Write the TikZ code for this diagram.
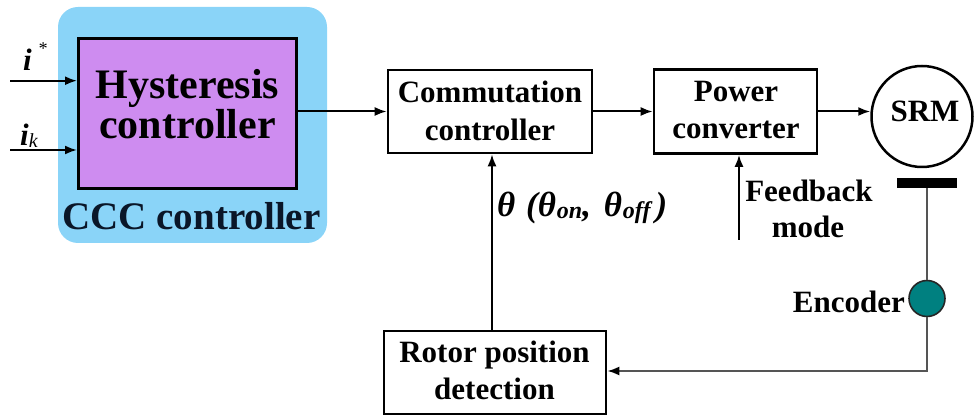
\documentclass[tikz,border=0pt]{standalone}
\usepackage{fontspec}
\setmainfont{Liberation Serif}
\usetikzlibrary{arrows.meta}
\definecolor{ccbg}{RGB}{138,212,248}
\definecolor{hystfill}{RGB}{206,140,240}
\definecolor{encfill}{RGB}{0,128,128}
\definecolor{navytext}{RGB}{10,22,40}
\definecolor{wire}{RGB}{85,85,85}
\begin{document}
\begin{tikzpicture}[x=1pt,y=-1pt,
  blk/.style={draw=black, line width=2.6pt, rectangle, inner sep=0pt},
  lbl/.style={anchor=base, inner sep=0pt, font=\fontsize{31}{37}\selectfont\bfseries},
  arr/.style={line width=2pt, -{Latex[length=12pt,width=9pt]}},
]
\useasboundingbox (0,0) rectangle (975,419);
% CCC controller background
\node[fill=ccbg, rounded corners=20pt, minimum width=269pt, minimum height=236pt, inner sep=0pt] (ccc) at (192.5,125) {};
\node[blk, fill=hystfill, line width=3pt, minimum width=218pt, minimum height=150pt] (hyst) at (187.5,113.5) {};
\node[lbl, font=\fontsize{42}{40}\selectfont\bfseries] (h1) at (187.5,99) {Hysteresis};
\node[lbl, font=\fontsize{42}{40}\selectfont\bfseries] (h2) at (187.5,139) {controller};
\node[lbl, font=\fontsize{39}{40}\selectfont\bfseries, text=navytext] (cccl) at (191.5,230) {CCC controller};
% inputs
\coordinate (in1) at (10,80.7);
\coordinate (in2) at (10,150);
\draw[arr] (in1) -- (in1 -| hyst.west);
\draw[arr] (in2) -- (in2 -| hyst.west);
\node[lbl, anchor=base west, font=\fontsize{31}{30}\selectfont\bfseries\itshape] (istar) at (23,71) {i\kern6pt\raisebox{16pt}{\fontsize{18}{18}\selectfont\mdseries *}};
\node[lbl, anchor=base west, font=\fontsize{31}{30}\selectfont\bfseries\itshape] (ik) at (20,146) {i\raisebox{-2pt}{\fontsize{20}{20}\selectfont\mdseries k}};
% blocks
\node[blk, minimum width=204pt, minimum height=83pt] (comm) at (490,111.5) {};
\node[lbl] (c1) at (490,103) {Commutation};
\node[lbl] (c2) at (490,141) {controller};
\node[blk, minimum width=163pt, minimum height=84pt] (pow) at (735.5,111.5) {};
\node[lbl] (p1) at (736,102) {Power};
\node[lbl] (p2) at (736,139) {converter};
\node[circle, draw=black, line width=2.5pt, minimum size=101pt, inner sep=0pt] (srm) at (922,116.5) {};
\node[lbl] (srml) at (925,121.5) {SRM};
\node[fill=black, minimum width=60pt, minimum height=10pt, inner sep=0pt] (bar) at (927,183) {};
\node[circle, draw=black!85, fill=encfill, line width=1.6pt, minimum size=36pt, inner sep=0pt] (enc) at (927,298.5) {};
\node[lbl, anchor=base east] (encl) at (905,313) {Encoder};
\node[blk, minimum width=222pt, minimum height=83pt] (rot) at (495,372.5) {};
\node[lbl] (r1) at (494.5,363) {Rotor position};
\node[lbl] (r2) at (494.5,400) {detection};
% connectors
\draw[arr] (hyst.east |- comm.west) -- (comm.west);
\draw[arr] (comm.east) -- (pow.west);
\draw[arr] (pow.east) -- (pow.east -| srm.west);
\coordinate (thx) at (492,0);
\draw[arr] (thx |- rot.north) -- (thx |- comm.south);
\node[lbl, anchor=base west, font=\fontsize{35}{37}\selectfont\bfseries\itshape] (theta) at (497,217) {θ\kern2pt{} (θ\kern1pt\raisebox{-2pt}{\fontsize{24}{24}\selectfont on},\kern4pt{} θ\kern1pt\raisebox{-2pt}{\fontsize{24}{24}\selectfont off}\kern5pt)};
\coordinate (fb) at (739,240);
\draw[arr] (fb) -- (fb |- pow.south);
\node[lbl] (fb1) at (809,202) {Feedback};
\node[lbl] (fb2) at (808,238) {mode};
\draw[line width=2pt, draw=wire] (bar.south) -- (enc.north);
\coordinate (corner) at (927,371);
\draw[line width=2pt, draw=wire, -{Latex[length=12pt,width=9pt,color=black]}] (enc.south) -- (corner) -- (corner -| rot.east);
\end{tikzpicture}
\end{document}
